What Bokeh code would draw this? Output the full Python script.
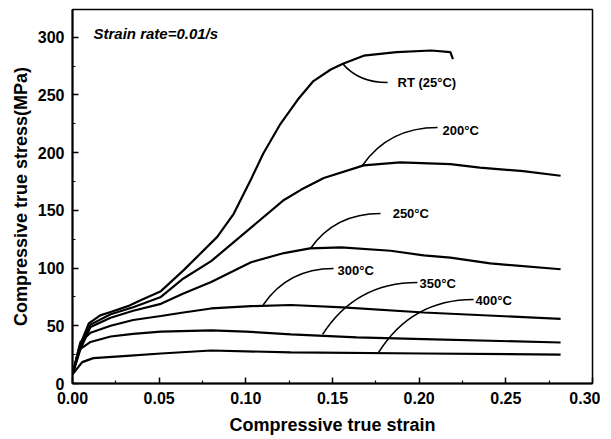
from bokeh.plotting import figure
from bokeh.models import FixedTicker, Label
from bokeh.core.properties import value
from bokeh.embed import file_html
from bokeh.resources import INLINE

# ---- data ----
strain_rt = [0, 0.004, 0.0094, 0.016, 0.022, 0.032, 0.039, 0.051, 0.064, 0.0835, 0.093, 0.103,
             0.110, 0.120, 0.130, 0.139, 0.149, 0.156, 0.168, 0.187, 0.207, 0.218, 0.2195]
stress_rt = [8, 32, 52, 59, 62, 67, 72, 80, 98, 127, 147, 177,
             199, 225, 246, 262, 272, 277, 284, 287, 288.5, 287, 281]

strain_200 = [0, 0.004, 0.0104, 0.022, 0.035, 0.051, 0.064, 0.080, 0.103, 0.122, 0.132, 0.145,
              0.168, 0.189, 0.218, 0.235, 0.260, 0.2816]
stress_200 = [8, 30, 51, 60, 66, 75, 91, 106, 135, 159, 168, 178,
              189, 191.5, 190, 187, 184, 180]

strain_250 = [0, 0.004, 0.0104, 0.022, 0.035, 0.051, 0.064, 0.080, 0.103, 0.122, 0.137, 0.155,
              0.1835, 0.2026, 0.218, 0.241, 0.2816]
stress_250 = [8, 28, 49, 57, 63, 69, 78, 88, 105, 113, 117, 118,
              115, 111, 109, 104, 99]

strain_300 = [0, 0.0046, 0.0104, 0.022, 0.035, 0.051, 0.064, 0.080, 0.103, 0.126, 0.156, 0.2026, 0.2816]
stress_300 = [8, 36, 44, 50, 55, 58.5, 61.5, 65, 67, 68, 66, 61.5, 56]

strain_350 = [0, 0.0046, 0.0104, 0.022, 0.035, 0.051, 0.080, 0.100, 0.126, 0.164, 0.2026, 0.2816]
stress_350 = [8, 30, 36, 40.7, 43, 45, 46, 45, 42.5, 40, 38.5, 35.5]

strain_400 = [0, 0.0056, 0.012, 0.0315, 0.051, 0.080, 0.126, 0.2026, 0.2816]
stress_400 = [8, 18.5, 22, 24, 26, 28.6, 27, 26, 25]

# annotation labels and leader lines (start on curve -> end near label)
labels = ["RT (25°C)", "200°C", "250°C", "300°C", "350°C", "400°C"]
leader_x0 = [0.1558, 0.1673, 0.1373, 0.1100, 0.1443, 0.1766]
leader_y0 = [277.3, 189.0, 117.0, 68.0, 42.5, 26.9]
leader_x1 = [0.1818, 0.2106, 0.1777, 0.1506, 0.1990, 0.2314]
leader_y1 = [260.8, 221.8, 147.3, 99.6, 87.5, 72.8]
label_x = [0.1875, 0.2135, 0.1847, 0.1529, 0.2002, 0.2325]
label_y = [260.8, 219.0, 147.3, 98.0, 86.7, 72.0]

x_ticks = [0.00, 0.05, 0.10, 0.15, 0.20, 0.25, 0.30]
y_ticks = [0, 50, 100, 150, 200, 250, 300]

FONT = "Liberation Sans"

p = figure(frame_width=520, frame_height=374, x_range=(0, 0.30), y_range=(0, 324),
           output_backend="svg", toolbar_location=None,
           min_border_left=72, min_border_right=8, min_border_top=9, min_border_bottom=52)
p.grid.visible = False
p.background_fill_color = "white"
p.border_fill_color = "white"
p.outline_line_color = "black"
p.outline_line_width = 1.5

for s, t in [(strain_rt, stress_rt), (strain_200, stress_200), (strain_250, stress_250),
             (strain_300, stress_300), (strain_350, stress_350), (strain_400, stress_400)]:
    p.line(s, t, line_color="black", line_width=2.2)

cx = [a + 0.35 * (b - a) for a, b in zip(leader_x0, leader_x1)]
p.quadratic(x0=leader_x0, y0=leader_y0, x1=leader_x1, y1=leader_y1, cx=cx, cy=leader_y1,
            line_color="black", line_width=1.6)

p.text(x=label_x, y=label_y, text=labels, text_font=value(FONT), text_font_style="bold",
       text_font_size="13px", text_baseline="middle", text_align="left", text_color="black")

p.add_layout(Label(x=0.0121, y=303, text="Strain rate=0.01/s", text_font=FONT,
                   text_font_style="bold italic", text_font_size="15px",
                   text_baseline="middle", text_align="left", text_color="black"))

p.xaxis.ticker = FixedTicker(ticks=x_ticks, minor_ticks=[0.025, 0.075, 0.125, 0.175, 0.225, 0.275])
p.yaxis.ticker = FixedTicker(ticks=y_ticks, minor_ticks=[25, 75, 125, 175, 225, 275])
p.xaxis.major_label_overrides = {v: f"{v:.2f}" for v in x_ticks}
p.xaxis.axis_label = "Compressive true strain"
p.yaxis.axis_label = "Compressive true stress(MPa)"

for ax in (p.xaxis, p.yaxis):
    ax.axis_line_width = 2
    ax.axis_line_color = "black"
    ax.major_tick_in = 6
    ax.major_tick_out = 0
    ax.minor_tick_in = 3
    ax.minor_tick_out = 0
    ax.major_tick_line_width = 1.5
    ax.minor_tick_line_width = 1.2
    ax.major_tick_line_color = "black"
    ax.minor_tick_line_color = "black"
    ax.major_label_text_font = FONT
    ax.major_label_text_font_style = "bold"
    ax.major_label_text_font_size = "16px"
    ax.major_label_text_color = "black"
    ax.axis_label_text_font = FONT
    ax.axis_label_text_font_style = "bold"
    ax.axis_label_text_font_size = "18px"
    ax.axis_label_text_color = "black"
    ax.major_label_standoff = 8
p.xaxis.axis_label_standoff = 8
p.yaxis.axis_label_standoff = 4

open("out.html", "w").write(file_html(p, INLINE))
